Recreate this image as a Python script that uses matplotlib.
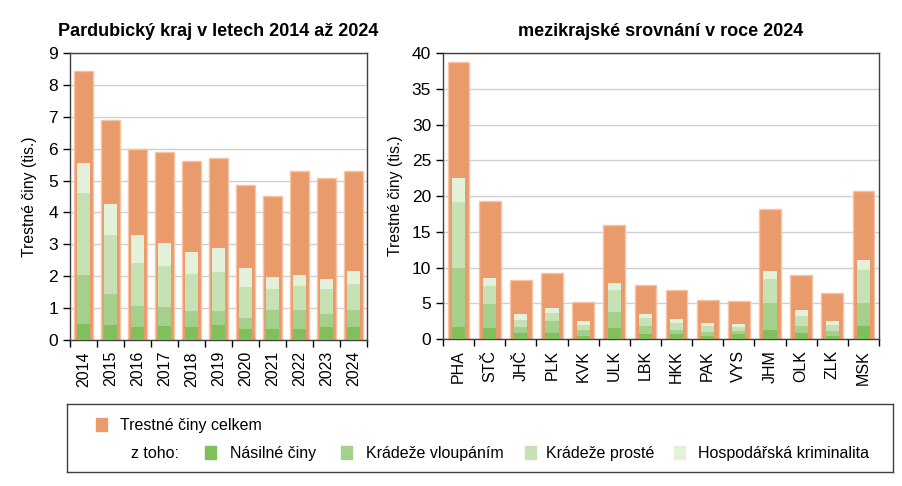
import matplotlib
matplotlib.use("Agg")
import matplotlib.pyplot as plt
from matplotlib.patches import Rectangle
import numpy as np

plt.rcParams['font.family'] = ['Liberation Sans', 'DejaVu Sans']

years = ['2014', '2015', '2016', '2017', '2018', '2019', '2020', '2021', '2022', '2023', '2024']
pak_total = [8.45, 6.9, 6.0, 5.9, 5.62, 5.7, 4.85, 4.5, 5.3, 5.08, 5.3]
pak_nasilne = [0.5, 0.47, 0.4, 0.43, 0.4, 0.47, 0.35, 0.35, 0.35, 0.4, 0.4]
pak_vloup = [1.55, 0.96, 0.68, 0.62, 0.5, 0.43, 0.35, 0.58, 0.58, 0.42, 0.53]
pak_proste = [2.55, 1.85, 1.32, 1.27, 1.18, 1.23, 0.97, 0.67, 0.77, 0.78, 0.82]
pak_hosp = [0.95, 0.97, 0.88, 0.73, 0.67, 0.77, 0.58, 0.38, 0.35, 0.3, 0.42]

regions = ['PHA', 'STČ', 'JHČ', 'PLK', 'KVK', 'ULK', 'LBK', 'HKK', 'PAK', 'VYS', 'JHM', 'OLK', 'ZLK', 'MSK']
reg_total = [38.7, 19.3, 8.3, 9.3, 5.2, 16.0, 7.6, 6.9, 5.5, 5.35, 18.2, 9.0, 6.4, 20.65]
reg_nasilne = [1.7, 1.5, 0.8, 0.85, 0.45, 1.5, 0.65, 0.65, 0.4, 0.65, 1.3, 0.85, 0.45, 1.85]
reg_vloup = [8.2, 3.4, 0.9, 1.65, 0.75, 2.3, 1.15, 0.6, 0.53, 0.5, 3.7, 0.95, 0.7, 3.15]
reg_proste = [9.3, 2.55, 0.95, 1.2, 0.8, 3.0, 1.2, 1.05, 0.82, 0.55, 3.4, 1.45, 0.8, 4.7]
reg_hosp = [3.3, 1.05, 0.85, 0.65, 0.5, 1.0, 0.55, 0.55, 0.42, 0.45, 1.15, 0.8, 0.5, 1.4]

C_TOTAL = '#EA9B6C'
C_EDGE = '#F6C3A4'
C_G = ['#7FBF5C', '#A5D08B', '#C6E1B3', '#E3F0DA']
LABELS = ['Násilné činy', 'Krádeže vloupáním', 'Krádeže prosté', 'Hospodářská kriminalita']

fig = plt.figure(figsize=(9.03, 4.86), dpi=100)
W, H = 903, 486

def ax_px(x0, y0, x1, y1):
    return fig.add_axes([x0 / W, 1 - y1 / H, (x1 - x0) / W, (y1 - y0) / H])

def draw(ax, cats, total, parts, ymax, step, wt, wg, title):
    x = np.arange(len(cats))
    ax.set_axisbelow(True)
    ax.yaxis.grid(True, color='#D0D0D0', linewidth=1)
    ax.bar(x, total, width=wt, color=C_TOTAL, edgecolor=C_EDGE, linewidth=1, zorder=2)
    bottom = np.zeros(len(cats))
    for p, c in zip(parts, C_G):
        ax.bar(x, p, width=wg, bottom=bottom, color=c, linewidth=0, zorder=3)
        bottom = bottom + np.array(p)
    ax.set_xlim(-0.5, len(cats) - 0.5)
    ax.set_ylim(0, ymax)
    ax.set_yticks(np.arange(0, ymax + 0.01, step))
    ax.set_xticks(x)
    ax.set_xticklabels(cats, rotation=90, fontsize=11.5)
    ax.set_xticks(np.arange(-0.5, len(cats)), minor=True)
    ax.tick_params(axis='x', which='major', length=0, pad=8)
    ax.tick_params(axis='x', which='minor', length=5, width=1, direction='out')
    ax.tick_params(axis='y', length=5, width=1, direction='out', labelsize=12.5)
    for s in ax.spines.values():
        s.set_color('#404040')
        s.set_linewidth(1)
    ax.set_ylabel('Trestné činy (tis.)', fontsize=11.3)
    ax.set_title(title, fontsize=13, fontweight='bold', pad=12)

ax1 = ax_px(70, 53, 367, 340)
draw(ax1, years, pak_total, [pak_nasilne, pak_vloup, pak_proste, pak_hosp], 9, 1, 0.74, 0.45,
     'Pardubický kraj v letech 2014 až 2024')
ax1.yaxis.labelpad = 8

ax2 = ax_px(443, 53, 879, 339)
draw(ax2, regions, reg_total, [reg_nasilne, reg_vloup, reg_proste, reg_hosp], 40, 5, 0.7, 0.42,
     'mezikrajské srovnání v roce 2024')
ax2.yaxis.labelpad = 6

# legend
lax = ax_px(67, 404, 893, 472)
lax.set_xlim(0, 826)
lax.set_ylim(68, 0)
lax.set_xticks([])
lax.set_yticks([])
for s in lax.spines.values():
    s.set_color('#404040')
    s.set_linewidth(1)
lax.add_patch(Rectangle((29, 14), 11, 13, color=C_TOTAL))
lax.text(53, 21, 'Trestné činy celkem', va='center', fontsize=11.5)
lax.text(64, 49, 'z toho:', va='center', fontsize=11.5)
xs = [138, 274, 458, 607]
xt = [163, 299, 479, 631]
for xp, xx, c, lab in zip(xs, xt, C_G, LABELS):
    lax.add_patch(Rectangle((xp, 42), 11, 13, color=c))
    lax.text(xx, 49, lab, va='center', fontsize=11.5)

fig.savefig('out.png', dpi=100)
